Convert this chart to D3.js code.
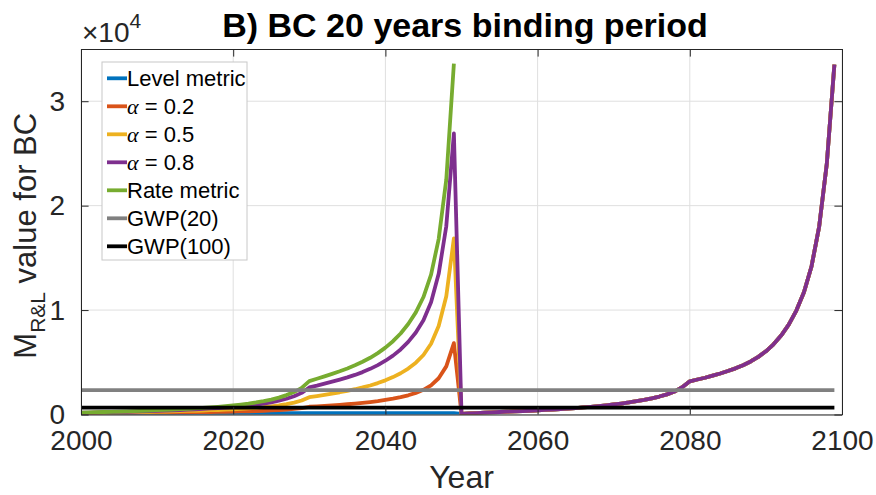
<!DOCTYPE html>
<html>
<head>
<meta charset="utf-8">
<script src="https://cdn.jsdelivr.net/npm/d3@7"></script>
<style>
  body { margin: 0; background: #fff; }
  svg { display: block; font-family: "Liberation Sans", Arial, Helvetica, sans-serif; }
</style>
</head>
<body>
<script>
/**********************
 ***    Data        ***
 **********************/
// values are in units of 10^4 (as shown on the axis)
const yearsFirst = d3.range(2000, 2050);
const yearsSecond = d3.range(2050, 2100);

const levelFirst = [
  0.012, 0.012, 0.012, 0.012, 0.012, 0.012, 0.012, 0.012, 0.012, 0.012,
  0.012, 0.012, 0.012, 0.012, 0.012, 0.012, 0.012, 0.012, 0.012, 0.012,
  0.013, 0.013, 0.013, 0.013, 0.013, 0.013, 0.013, 0.013, 0.013, 0.013,
  0.013, 0.013, 0.013, 0.013, 0.013, 0.013, 0.013, 0.013, 0.013, 0.013,
  0.014, 0.014, 0.014, 0.014, 0.014, 0.014, 0.014, 0.014, 0.014, 0.014
];
const alpha02First = [
  0.014, 0.014, 0.014, 0.015, 0.015, 0.016, 0.016, 0.016, 0.017, 0.018,
  0.018, 0.019, 0.019, 0.020, 0.021, 0.022, 0.023, 0.024, 0.025, 0.026,
  0.027, 0.029, 0.031, 0.033, 0.036, 0.039, 0.042, 0.047, 0.053, 0.061,
  0.074, 0.078, 0.083, 0.088, 0.093, 0.098, 0.104, 0.111, 0.119, 0.128,
  0.139, 0.151, 0.166, 0.184, 0.207, 0.236, 0.279, 0.347, 0.461, 0.683
];
const alpha05First = [
  0.015, 0.016, 0.017, 0.018, 0.019, 0.020, 0.021, 0.022, 0.024, 0.025,
  0.027, 0.028, 0.030, 0.032, 0.034, 0.036, 0.038, 0.041, 0.043, 0.046,
  0.050, 0.054, 0.058, 0.064, 0.070, 0.078, 0.087, 0.099, 0.114, 0.134,
  0.166, 0.177, 0.189, 0.201, 0.213, 0.227, 0.242, 0.259, 0.278, 0.301,
  0.327, 0.358, 0.395, 0.440, 0.496, 0.570, 0.677, 0.847, 1.132, 1.687
];
const alpha08First = [
  0.017, 0.018, 0.020, 0.022, 0.023, 0.025, 0.026, 0.028, 0.031, 0.033,
  0.035, 0.038, 0.040, 0.043, 0.047, 0.050, 0.054, 0.058, 0.062, 0.067,
  0.072, 0.079, 0.086, 0.095, 0.105, 0.117, 0.132, 0.151, 0.175, 0.207,
  0.259, 0.276, 0.295, 0.314, 0.334, 0.355, 0.379, 0.406, 0.437, 0.473,
  0.515, 0.564, 0.623, 0.695, 0.785, 0.903, 1.075, 1.347, 1.803, 2.691
];
const rateFirst = [
  0.018, 0.020, 0.022, 0.024, 0.026, 0.028, 0.030, 0.032, 0.035, 0.038,
  0.041, 0.044, 0.047, 0.051, 0.055, 0.059, 0.064, 0.069, 0.074, 0.080,
  0.087, 0.095, 0.104, 0.115, 0.128, 0.143, 0.162, 0.186, 0.215, 0.255,
  0.320, 0.342, 0.365, 0.389, 0.414, 0.441, 0.471, 0.505, 0.543, 0.588,
  0.640, 0.702, 0.776, 0.866, 0.978, 1.125, 1.340, 1.680, 2.250, 3.360
];
// second binding period (2050-2099): all level/alpha curves coincide
const secondPeriod = [
  0.005, 0.010, 0.014, 0.018, 0.021, 0.024, 0.027, 0.030, 0.033, 0.036,
  0.040, 0.044, 0.048, 0.052, 0.057, 0.062, 0.068, 0.074, 0.081, 0.088,
  0.096, 0.105, 0.115, 0.127, 0.140, 0.155, 0.172, 0.193, 0.220, 0.262,
  0.318, 0.335, 0.352, 0.372, 0.393, 0.416, 0.442, 0.472, 0.508, 0.552,
  0.605, 0.672, 0.756, 0.860, 0.995, 1.170, 1.420, 1.800, 2.400, 3.350
];
const gwp20 = 0.234;
const gwp100 = 0.065;

const xTicks = [2000, 2020, 2040, 2060, 2080, 2100];
const yTicks = [0, 1, 2, 3];

const TITLE_TEXT = "B) BC 20 years binding period";

/**********************
 ***    Layout      ***
 **********************/
const WIDTH = 876, HEIGHT = 495;
const plot = { left: 81, right: 842, top: 49, bottom: 414.5 };
const TICK_LEN = 7.6;
const AXIS_COLOR = "#262626";
const GRID_COLOR = "#dfdfdf";

const x = d3.scaleLinear().domain([2000, 2100]).range([plot.left, plot.right]);
const y = d3.scaleLinear().domain([0, 3.5]).range([plot.bottom, plot.top]);

const svg = d3.select("body").append("svg")
  .attr("width", WIDTH)
  .attr("height", HEIGHT);

svg.append("defs").append("clipPath").attr("id", "plotClip")
  .append("rect")
  .attr("x", plot.left).attr("y", plot.top)
  .attr("width", plot.right - plot.left).attr("height", plot.bottom - plot.top);

// grid
const grid = svg.append("g");
grid.selectAll("line.gx").data(xTicks).enter().append("line")
  .attr("x1", d => x(d)).attr("x2", d => x(d))
  .attr("y1", plot.top).attr("y2", plot.bottom)
  .attr("stroke", GRID_COLOR).attr("stroke-width", 1);
grid.selectAll("line.gy").data(yTicks).enter().append("line")
  .attr("x1", plot.left).attr("x2", plot.right)
  .attr("y1", d => y(d)).attr("y2", d => y(d))
  .attr("stroke", GRID_COLOR).attr("stroke-width", 1);

/*********************
 *  Series           *
 *********************/
const toPoints = (years, vals) => years.map((yr, i) => ({ year: yr, value: vals[i] }));

const series = [
  { name: "Level metric", color: "#0072BD", points: toPoints(yearsFirst.concat(yearsSecond), levelFirst.concat(secondPeriod)) },
  { name: "α = 0.2", alpha: "0.2", color: "#D95319", points: toPoints(yearsFirst.concat(yearsSecond), alpha02First.concat(secondPeriod)) },
  { name: "α = 0.5", alpha: "0.5", color: "#EDB120", points: toPoints(yearsFirst.concat(yearsSecond), alpha05First.concat(secondPeriod)) },
  { name: "α = 0.8", alpha: "0.8", color: "#7E2F8E", points: toPoints(yearsFirst.concat(yearsSecond), alpha08First.concat(secondPeriod)) },
  { name: "Rate metric", color: "#77AC30", points: toPoints(yearsFirst, rateFirst) },
  { name: "GWP(20)", color: "#808080", points: [{ year: 2000, value: gwp20 }, { year: 2099, value: gwp20 }] },
  { name: "GWP(100)", color: "#000000", points: [{ year: 2000, value: gwp100 }, { year: 2099, value: gwp100 }] }
];

const line = d3.line().x(d => x(d.year)).y(d => y(d.value));

svg.append("g").attr("clip-path", "url(#plotClip)")
  .selectAll("path").data(series).enter().append("path")
  .attr("d", d => line(d.points))
  .attr("fill", "none")
  .attr("stroke", d => d.color)
  .attr("stroke-width", 3.8)
  .attr("stroke-linejoin", "round");

/*********************
 *  Axes             *
 *********************/
const fmtAxis = g => {
  g.select(".domain").attr("stroke", AXIS_COLOR);
  g.selectAll(".tick line").attr("stroke", AXIS_COLOR);
  g.selectAll(".tick text").attr("fill", AXIS_COLOR).attr("font-size", 28)
    .attr("font-family", '"Liberation Sans", Arial, sans-serif');
};

svg.append("g").attr("transform", `translate(0,${plot.bottom})`)
  .call(d3.axisBottom(x).tickValues(xTicks).tickFormat(d3.format("d"))
    .tickSizeInner(-TICK_LEN).tickSizeOuter(0).tickPadding(16))
  .call(fmtAxis);
svg.append("g").attr("transform", `translate(0,${plot.top})`)
  .call(d3.axisTop(x).tickValues(xTicks).tickFormat("")
    .tickSizeInner(-TICK_LEN).tickSizeOuter(0))
  .call(fmtAxis);
svg.append("g").attr("transform", `translate(${plot.left},0)`)
  .call(d3.axisLeft(y).tickValues(yTicks).tickFormat(d3.format("d"))
    .tickSizeInner(-TICK_LEN).tickSizeOuter(0).tickPadding(16))
  .call(fmtAxis);
svg.append("g").attr("transform", `translate(${plot.right},0)`)
  .call(d3.axisRight(y).tickValues(yTicks).tickFormat("")
    .tickSizeInner(-TICK_LEN).tickSizeOuter(0))
  .call(fmtAxis);

svg.selectAll(".domain").attr("fill", "none");

// exponent label
const expo = svg.append("text")
  .attr("x", 82).attr("y", 42)
  .attr("fill", AXIS_COLOR).attr("font-size", 28);
expo.append("tspan").text("×10");
expo.append("tspan").attr("font-size", 21).attr("dy", -14).text("4");

// title
svg.append("text")
  .attr("x", 465).attr("y", 37)
  .attr("text-anchor", "middle")
  .attr("font-weight", "bold").attr("font-size", 34)
  .attr("fill", "#000")
  .text(TITLE_TEXT);

// x label
svg.append("text")
  .attr("x", (plot.left + plot.right) / 2).attr("y", 488)
  .attr("text-anchor", "middle")
  .attr("font-size", 32).attr("fill", AXIS_COLOR)
  .text("Year");

// y label
const yl = svg.append("text")
  .attr("transform", `translate(36,${(plot.top + plot.bottom) / 2 + 4}) rotate(-90)`)
  .attr("text-anchor", "middle")
  .attr("font-size", 31).attr("fill", AXIS_COLOR);
yl.append("tspan").text("M");
yl.append("tspan").attr("font-size", 21).attr("dy", 9).text("R&L");
yl.append("tspan").attr("dy", -9).text(" value for BC");

/*********************
 *  Legend           *
 *********************/
const legend = svg.append("g").attr("transform", "translate(102,62)");
legend.append("rect")
  .attr("width", 145).attr("height", 198)
  .attr("fill", "#fff").attr("stroke", "#c8c8c8").attr("stroke-width", 1);

const rows = legend.selectAll("g.row").data(series).enter().append("g")
  .attr("transform", (d, i) => `translate(0,${16.3 + i * 28})`);
rows.append("line")
  .attr("x1", 5).attr("x2", 25)
  .attr("stroke", d => d.color).attr("stroke-width", 3.8);
const labels = rows.append("text")
  .attr("x", 25).attr("y", 8)
  .attr("font-size", 22).attr("fill", "#000");
labels.each(function(d) {
  const t = d3.select(this);
  if (d.alpha) {
    t.append("tspan").attr("font-style", "italic")
      .attr("font-family", '"Liberation Serif", "Times New Roman", serif').text("α");
    t.append("tspan").text(" = " + d.alpha);
  } else {
    t.text(d.name);
  }
});
</script>
</body>
</html>
